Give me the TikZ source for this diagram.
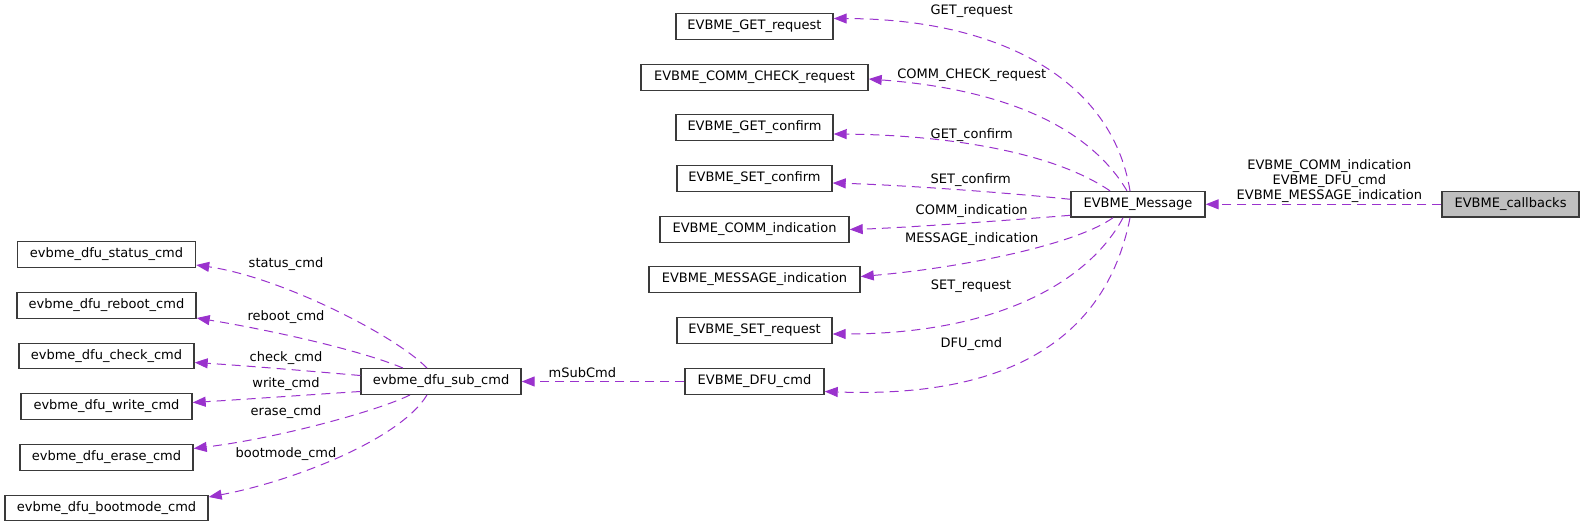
\documentclass[tikz,border=0pt]{standalone}
\usepackage{fontspec}
\setmainfont{DejaVu Sans}
\usetikzlibrary{arrows.meta}
\definecolor{edgec}{HTML}{9A32CD}
\definecolor{boxline}{HTML}{3A3A3A}
\definecolor{cbfill}{HTML}{BFBFBF}
\begin{document}
\begin{tikzpicture}[x=1pt,y=-1pt,
  box/.style={draw=boxline,line width=1.4pt,fill=white,minimum height=25.5pt,inner sep=0pt,font=\fontsize{13}{15}\selectfont},
  edge/.style={draw=edgec,line width=1pt,dash pattern=on 9pt off 6pt,-{Triangle[length=13pt,width=10pt]}},
  lab/.style={font=\fontsize{13}{15}\selectfont,inner sep=0pt,align=center}]
\useasboundingbox (0,0) rectangle (1584,527);
% right column
\node[box,minimum width=157pt] (getreq) at (754.5,26.5) {EVBME\_GET\_request};
\node[box,minimum width=227pt] (commcheck) at (754.5,77.5) {EVBME\_COMM\_CHECK\_request};
\node[box,minimum width=157pt] (getconf) at (754.5,127.5) {EVBME\_GET\_confirm};
\node[box,minimum width=155pt] (setconf) at (754.5,178.5) {EVBME\_SET\_confirm};
\node[box,minimum width=189pt] (commind) at (754.5,229.5) {EVBME\_COMM\_indication};
\node[box,minimum width=211pt] (msgind) at (754.5,279.5) {EVBME\_MESSAGE\_indication};
\node[box,minimum width=155pt] (setreq) at (754.5,330.5) {EVBME\_SET\_request};
\node[box,minimum width=139pt] (dfucmd) at (754.5,381.5) {EVBME\_DFU\_cmd};
\node[box,minimum width=134pt] (msg) at (1138,204.3) {EVBME\_Message};
\node[box,minimum width=137pt,fill=cbfill] (cb) at (1510.5,204.3) {EVBME\_callbacks};
% left column
\node[box,minimum width=178pt] (status) at (106.5,254.5) {evbme\_dfu\_status\_cmd};
\node[box,minimum width=179pt] (reboot) at (106.5,305.5) {evbme\_dfu\_reboot\_cmd};
\node[box,minimum width=175pt] (check) at (106.5,356) {evbme\_dfu\_check\_cmd};
\node[box,minimum width=171pt] (write) at (106.5,406.5) {evbme\_dfu\_write\_cmd};
\node[box,minimum width=173pt] (erase) at (106.5,457.5) {evbme\_dfu\_erase\_cmd};
\node[box,minimum width=203pt] (bootmode) at (106.5,508) {evbme\_dfu\_bootmode\_cmd};
\node[box,minimum width=160pt] (sub) at (441,381.5) {evbme\_dfu\_sub\_cmd};
% edges from EVBME_Message
\draw[edge] ([xshift=-8pt]msg.north) .. controls (1112,80) and (1000,19) .. ([yshift=8pt]getreq.east);
\draw[edge] ([xshift=-11pt]msg.north) .. controls (1085,120) and (990,88) .. ([yshift=-1.5pt]commcheck.east);
\draw[edge] ([xshift=-28pt]msg.north) .. controls (1050,150) and (940,135) .. ([yshift=-6.5pt]getconf.east);
\draw[edge] ([yshift=5pt]msg.west) .. controls (1000,192) and (900,185) .. ([yshift=-4.5pt]setconf.east);
\draw[edge] ([yshift=-11pt]msg.west) .. controls (1000,221) and (900,228) .. (commind.east);
\draw[edge] ([xshift=-25pt]msg.south) .. controls (1075,245) and (960,268) .. ([yshift=3pt]msgind.east);
\draw[edge] ([xshift=-15pt]msg.south) .. controls (1090,280) and (1000,334) .. ([yshift=-3.5pt]setreq.east);
\draw[edge] ([xshift=-8pt]msg.south) .. controls (1105,345) and (1000,398) .. ([yshift=-10pt]dfucmd.east);
\draw[edge] (cb.west) -- (msg.east);
\draw[edge] (dfucmd.west) -- (sub.east);
% edges from evbme_dfu_sub_cmd
\draw[edge] ([xshift=-14pt]sub.north) .. controls (395,335) and (280,277) .. ([yshift=-10.5pt]status.east);
\draw[edge] ([xshift=-38pt]sub.north) .. controls (360,350) and (270,330) .. ([yshift=-12.5pt]reboot.east);
\draw[edge] ([yshift=6pt]sub.west) .. controls (320,372) and (250,366) .. ([yshift=-6.5pt]check.east);
\draw[edge] ([yshift=-10pt]sub.west) .. controls (320,394) and (250,399) .. ([yshift=4pt]write.east);
\draw[edge] ([xshift=-31pt]sub.south) .. controls (380,410) and (280,438) .. ([yshift=9pt]erase.east);
\draw[edge] ([xshift=-14pt]sub.south) .. controls (400,440) and (290,482) .. ([yshift=11pt]bootmode.east);
% labels
\node[lab] (l1) at (971.7,11.7) {GET\_request};
\node[lab] (l2) at (971.7,75) {COMM\_CHECK\_request};
\node[lab] (l3) at (971.7,134.7) {GET\_confirm};
\node[lab] (l4) at (970.7,180.3) {SET\_confirm};
\node[lab] (l5) at (971.7,210.7) {COMM\_indication};
\node[lab] (l6) at (971.7,239.3) {MESSAGE\_indication};
\node[lab] (l7) at (971,286.7) {SET\_request};
\node[lab] (l8) at (971.3,344.3) {DFU\_cmd};
\node[lab] (l9) at (1329.3,181.3) {EVBME\_COMM\_indication\\[-0.2pt]EVBME\_DFU\_cmd\\[-0.2pt]EVBME\_MESSAGE\_indication};
\node[lab] (l10) at (582.3,372.3) {mSubCmd};
\node[lab] (l11) at (286,264.3) {status\_cmd};
\node[lab] (l12) at (286,316.7) {reboot\_cmd};
\node[lab] (l13) at (286,358.3) {check\_cmd};
\node[lab] (l14) at (286,384.3) {write\_cmd};
\node[lab] (l15) at (286,412.3) {erase\_cmd};
\node[lab] (l16) at (286,454.3) {bootmode\_cmd};
\end{tikzpicture}
\end{document}
